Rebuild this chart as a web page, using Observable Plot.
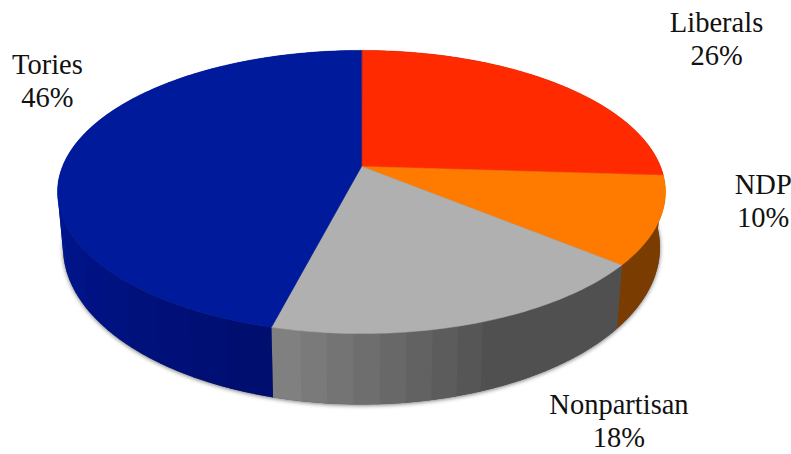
<!DOCTYPE html>
<html>
<head>
<meta charset="utf-8">
<style>html,body{margin:0;padding:0;background:#fff;overflow:hidden}svg{display:block}</style>
<script src="https://cdn.jsdelivr.net/npm/d3@7"></script>
<script src="https://cdn.jsdelivr.net/npm/@observablehq/plot@0.6"></script>
</head>
<body>
<div id="chart"></div>
<script>
// Data
const parties = ["Liberals", "NDP", "Nonpartisan", "Tories"];
const shares = [26, 10, 18, 46];

// Styling
const topColors = ["#ff2a00", "#ff7b00", "#b0b0b0", "#001a9c"];
// side colour at the start / end of each slice's sweep, and facet width in degrees
const sideStart = ["#7a1400", "#7a3c00", "#505050", "#000e70"];
const sideEnd = ["#7a1400", "#7a3c00", "#808080", "#00158e"];
const facetDeg = [10, 40, 4.2, 7];

// Layout: perspective of the disc and label offsets from the rim
const view = {cx: 361, cy: 166, a: 299, b: 137, p: 0.18};
const base = {cy: 218.6, b: 152, s: 0.982};
const labelDx = [161, 104, 146, -24];
const labelDy = [-45, -21, 96, -70];

const rad = d => d * Math.PI / 180;
const topPt = (deg, r = 1) => {
  const s = Math.sin(rad(deg)), c = Math.cos(rad(deg)), d = 1 + view.p * c;
  return {x: view.cx + r * view.a * s / d, y: view.cy - r * view.b * c / d};
};
const basePt = deg => {
  const s = Math.sin(rad(deg)), c = Math.cos(rad(deg)), d = 1 + view.p * c;
  return {x: view.cx + base.s * view.a * s / d, y: base.cy - base.b * c / d};
};

// Angular extents from the shares
let cum = 0;
const slices = parties.map((name, i) => {
  const start = cum * 3.6;
  cum += shares[i];
  return {name, i, start, end: cum * 3.6, share: shares[i]};
});

const topRows = [], sideRows = [];
for (const sl of slices) {
  const n = Math.max(2, Math.ceil(sl.end - sl.start));
  topRows.push({...topPt(0, 0), id: sl.name, color: topColors[sl.i]});
  for (let k = 0; k <= n; k++) {
    topRows.push({...topPt(sl.start + (sl.end - sl.start) * k / n), id: sl.name, color: topColors[sl.i]});
  }
}
// Faceted side wall; each facet overlaps its neighbour slightly so no seam shows
const mix = (a, b, t) => d3.interpolateRgb(a, b)(Math.max(0, Math.min(1, t)));
for (const sl of slices) {
  const step = facetDeg[sl.i];
  const fromEnd = sl.name === "Nonpartisan";
  const count = Math.ceil((sl.end - sl.start) / step);
  for (let f = count - 1; f >= 0; f--) {
    const aa = fromEnd ? sl.end - f * step : sl.start + f * step;
    const bb = fromEnd ? Math.max(sl.start, aa - step - 0.5) : Math.min(sl.end, aa + step + 0.5);
    const t = f / 8;
    const color = fromEnd ? mix(sideEnd[sl.i], sideStart[sl.i], t) : mix(sideStart[sl.i], sideEnd[sl.i], t);
    const id = `${sl.name}-${f}`;
    const m = Math.max(2, Math.ceil(Math.abs(bb - aa)));
    for (let k = 0; k <= m; k++) sideRows.push({...topPt(aa + (bb - aa) * k / m), id, color, layer: 0});
    for (let k = m; k >= 0; k--) sideRows.push({...basePt(aa + (bb - aa) * k / m), id, color, layer: 0});
  }
}
const shadowRows = d3.range(0, 360, 2).map(deg => basePt(deg));
const labels = slices.map(sl => {
  const rim = topPt((sl.start + sl.end) / 2);
  return {x: rim.x + labelDx[sl.i], y: rim.y + labelDy[sl.i], text: `${sl.name}\n${sl.share}%`};
});

const chart = Plot.plot({
  width: 791,
  height: 454,
  margin: 0,
  x: {domain: [0, 791], axis: null},
  y: {domain: [454, 0], axis: null},
  color: {type: "identity"},
  marks: [
    Plot.line(shadowRows, {
      x: "x", y: "y", fill: "#555", stroke: "none", curve: "linear-closed",
      imageFilter: "drop-shadow(0px 1px 2px rgba(60,60,60,0.7))"
    }),
    Plot.line(sideRows, {
      x: "x", y: "y", z: "id", fill: "color", stroke: "none",
      curve: "linear-closed"
    }),
    Plot.line(topRows, {
      x: "x", y: "y", z: "id", fill: "color", stroke: "color", strokeWidth: 0.5,
      curve: "linear-closed"
    }),
    Plot.text(labels, {
      x: "x", y: "y", text: "text", fontSize: 28.5, lineHeight: 1.16,
      fontFamily: "'Liberation Serif', serif", fill: "#111"
    })
  ]
});
document.getElementById("chart").appendChild(chart);
</script>
</body>
</html>
